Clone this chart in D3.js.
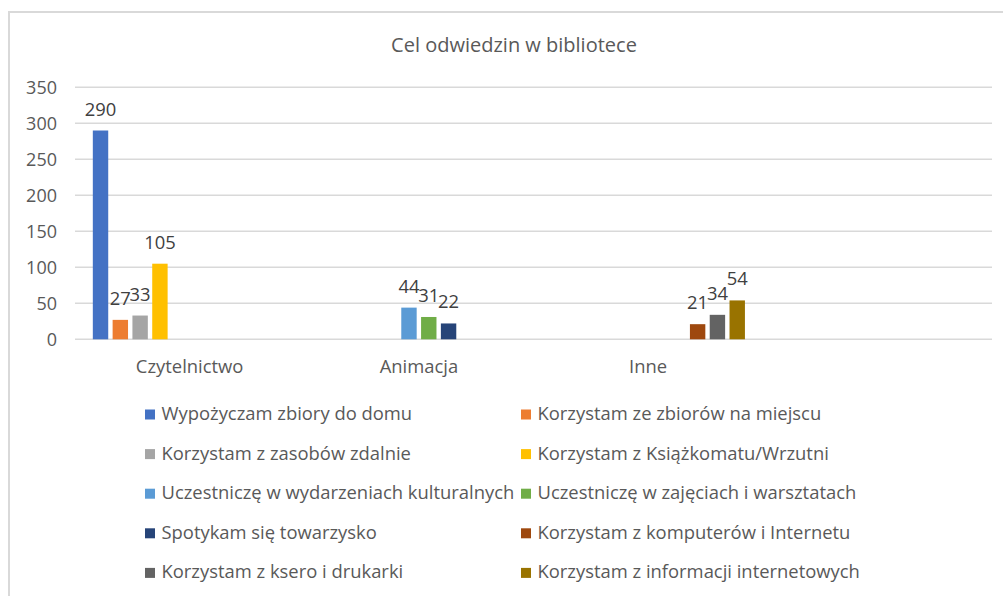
<!DOCTYPE html>
<html><head><meta charset="utf-8">
<script src="https://cdn.jsdelivr.net/npm/d3@7"></script>
<style>body{margin:0;background:#fff;} svg{display:block;}</style>
</head><body>
<svg id="c" width="1003" height="596"></svg>
<script>
const title = "Cel odwiedzin w bibliotece";
const categories = ["Czytelnictwo", "Animacja", "Inne", ""];
const seriesNames = [
  "Wypożyczam zbiory do domu",
  "Korzystam ze zbiorów na miejscu",
  "Korzystam z zasobów zdalnie",
  "Korzystam z Książkomatu/Wrzutni",
  "Uczestniczę w wydarzeniach kulturalnych",
  "Uczestniczę w zajęciach i warsztatach",
  "Spotykam się towarzysko",
  "Korzystam z komputerów i Internetu",
  "Korzystam z ksero i drukarki",
  "Korzystam z informacji internetowych"
];
// values per category: Czytelnictwo, Animacja, Inne, (empty)
const s1 = [290, null, null, null];
const s2 = [27, null, null, null];
const s3 = [33, null, null, null];
const s4 = [105, null, null, null];
const s5 = [null, 44, null, null];
const s6 = [null, 31, null, null];
const s7 = [null, 22, null, null];
const s8 = [null, null, 21, null];
const s9 = [null, null, 34, null];
const s10 = [null, null, 54, null];
const seriesValues = [s1, s2, s3, s4, s5, s6, s7, s8, s9, s10];
const colors = ["#4472C4", "#ED7D31", "#A5A5A5", "#FFC000", "#5B9BD5", "#70AD47", "#264478", "#9E480E", "#636363", "#997300"];
const yTicks = [0, 50, 100, 150, 200, 250, 300, 350];

const svg = d3.select("#c");
const font = "'Open Sans', sans-serif";
const textCol = "#595959";

// chart border
svg.append("rect").attr("x", 9).attr("y", 12).attr("width", 1100).attr("height", 700)
  .attr("fill", "none").attr("stroke", "#d9d9d9").attr("stroke-width", 2);

svg.append("text").attr("x", 514).attr("y", 52).attr("text-anchor", "middle")
  .attr("font-family", font).attr("font-size", 20).attr("fill", textCol).text(title);

const plot = {left: 75, right: 992, top: 87.3, bottom: 339.3};
const y = d3.scaleLinear().domain([0, 350]).range([plot.bottom, plot.top]);
const x0 = d3.scaleBand().domain(categories).range([plot.left, plot.right]);
const x1 = d3.scaleBand().domain(d3.range(seriesNames.length)).range([0, x0.bandwidth()])
  .paddingInner(0.222).paddingOuter(0.9);

// gridlines
svg.append("g").selectAll("line").data(yTicks).join("line")
  .attr("x1", plot.left).attr("x2", plot.right)
  .attr("y1", d => y(d)).attr("y2", d => y(d))
  .attr("stroke", "#d9d9d9").attr("stroke-width", 1.5);

// y axis labels
const yAxis = d3.axisLeft(y).tickValues(yTicks).tickSize(0).tickPadding(0);
const ya = svg.append("g").attr("transform", `translate(57,0)`).call(yAxis);
ya.select(".domain").remove();
ya.selectAll("text").attr("font-family", font).attr("font-size", 18).attr("fill", textCol).attr("dy", "0.34em");

// x axis labels
const xAxis = d3.axisBottom(x0).tickSize(0).tickPadding(0);
const xa = svg.append("g").attr("transform", `translate(0,${plot.bottom})`).call(xAxis);
xa.select(".domain").remove();
xa.selectAll("text").attr("font-family", font).attr("font-size", 18.4).attr("fill", textCol)
  .attr("y", 34).attr("dy", 0);

// bars
const barData = [];
seriesValues.forEach((vals, si) => vals.forEach((v, ci) => {
  if (v != null) barData.push({si, cat: categories[ci], v});
}));
const bars = svg.append("g");
bars.selectAll("rect").data(barData).join("rect")
  .attr("x", d => x0(d.cat) + x1(d.si))
  .attr("width", x1.bandwidth())
  .attr("y", d => y(d.v))
  .attr("height", d => y(0) - y(d.v))
  .attr("fill", d => colors[d.si]);
bars.selectAll("text").data(barData).join("text")
  .attr("x", d => x0(d.cat) + x1(d.si) + x1.bandwidth() / 2)
  .attr("y", d => y(d.v) - 15)
  .attr("text-anchor", "middle")
  .attr("font-family", font).attr("font-size", 18.4).attr("fill", "#404040")
  .text(d => d.v);

// legend
const lg = svg.append("g");
const legItems = lg.selectAll("g").data(seriesNames).join("g")
  .attr("transform", (d, i) => `translate(${i % 2 === 0 ? 145 : 521},${420 + Math.floor(i / 2) * 39.6})`);
legItems.append("rect").attr("x", 0).attr("y", -10.5).attr("width", 10).attr("height", 10)
  .attr("fill", (d, i) => colors[i]);
legItems.append("text").attr("x", 16.5).attr("y", 0)
  .attr("font-family", font).attr("font-size", 18.4).attr("fill", textCol).text(d => d);
</script>
</body></html>
